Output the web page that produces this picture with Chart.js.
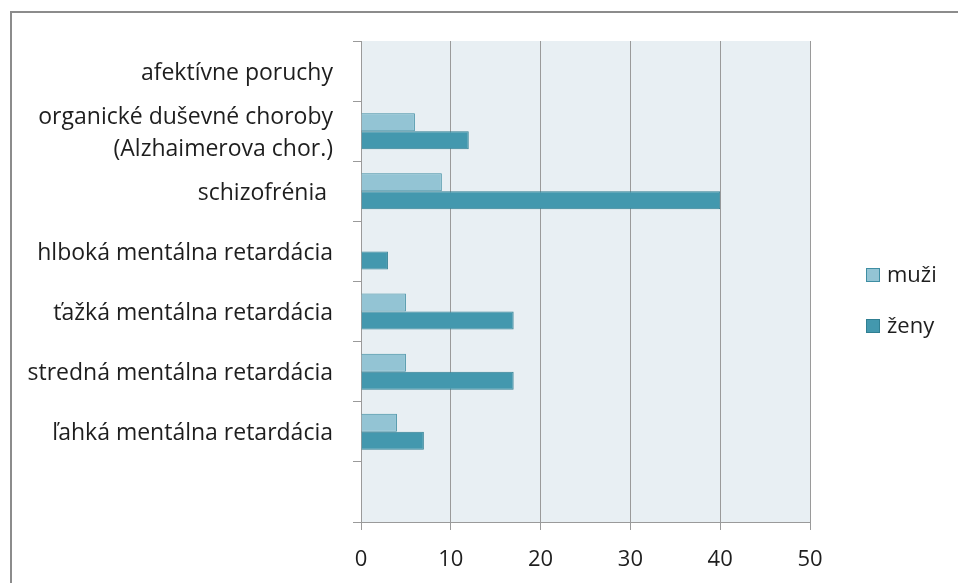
<!DOCTYPE html>
<html>
<head>
<meta charset="utf-8">
<script src="https://cdn.jsdelivr.net/npm/chart.js@4/dist/chart.umd.min.js"></script>
<style>
  html, body { margin: 0; padding: 0; background: #fff; }
  #wrap { position: relative; width: 958px; height: 583px; overflow: hidden; }
  #frame { position: absolute; left: 10px; top: 11px; width: 1200px; height: 900px; border: 2px solid #8c8c8c; }
  canvas { position: absolute; left: 0; top: 0; }
</style>
</head>
<body>
<div id="wrap">
  <div id="frame"></div>
  <canvas id="c" width="958" height="583"></canvas>
</div>
<script>
// kategórie (posledná je prázdna, ako v originále)
const categories = [
  'afektívne poruchy',
  ['organické duševné choroby', '(Alzhaimerova chor.)'],
  'schizofrénia ',
  'hlboká mentálna retardácia',
  'ťažká mentálna retardácia',
  'stredná mentálna retardácia',
  'ľahká mentálna retardácia',
  ''
];
const seriesNames = ['muži', 'ženy'];
const muzi = [0, 6, 9, 0, 5, 5, 4, null];
const zeny = [0, 12, 40, 3, 17, 17, 7, null];
const xTicks = [0, 10, 20, 30, 40, 50];

const FONT = '"Open Sans", Lato, sans-serif';
const GRID = '#9a9a9a';

// pozadie plochy grafu
const plotBg = {
  id: 'plotBg',
  beforeDraw(chart) {
    const {ctx, chartArea: a} = chart;
    ctx.save();
    ctx.fillStyle = '#e8eff3';
    ctx.fillRect(a.left, a.top, a.right - a.left, a.bottom - a.top);
    ctx.restore();
  }
};

// legenda vpravo
const sideLegend = {
  id: 'sideLegend',
  afterDraw(chart) {
    const {ctx, chartArea: a} = chart;
    ctx.save();
    ctx.font = '22px ' + FONT;
    ctx.textBaseline = 'middle';
    chart.data.datasets.forEach((ds, i) => {
      const x = a.right + 56, y = a.top + 234 + i * 51;
      ctx.fillStyle = ds.backgroundColor;
      ctx.fillRect(x, y - 7, 14, 14);
      ctx.strokeStyle = ds.borderColor;
      ctx.lineWidth = 1;
      ctx.strokeRect(x + 0.5, y - 6.5, 13, 13);
      ctx.fillStyle = '#1e1e1e';
      ctx.fillText(ds.label, x + 21, y + 1);
    });
    ctx.restore();
  }
};

new Chart(document.getElementById('c'), {
  type: 'bar',
  data: {
    labels: categories,
    datasets: [{
      label: seriesNames[0],
      data: muzi,
      backgroundColor: '#93c4d4',
      borderColor: '#3f8ea3',
      borderWidth: 1,
      categoryPercentage: 0.6,
      barPercentage: 1.0
    }, {
      label: seriesNames[1],
      data: zeny,
      backgroundColor: '#4398ae',
      borderColor: '#307f92',
      borderWidth: 1,
      categoryPercentage: 0.6,
      barPercentage: 1.0
    }]
  },
  plugins: [plotBg, sideLegend],
  options: {
    indexAxis: 'y',
    responsive: false,
    animation: false,
    layout: { padding: { top: 41, left: 0, right: 148, bottom: 0 } },
    plugins: {
      legend: { display: false },
      tooltip: { enabled: false }
    },
    scales: {
      x: {
        min: xTicks[0],
        max: xTicks[xTicks.length - 1],
        afterBuildTicks(scale) { scale.ticks = xTicks.map(v => ({value: v})); },
        afterFit(scale) { scale.height = 61; },
        grid: { color: GRID, lineWidth: 1, tickLength: 8, drawTicks: true },
        border: { display: true, color: GRID },
        ticks: { font: { family: FONT, size: 22 }, color: '#1e1e1e', padding: 17 }
      },
      y: {
        afterFit(scale) { scale.width = 361; },
        grid: { drawOnChartArea: false, color: GRID, tickLength: 8, offset: true },
        border: { display: true, color: GRID },
        ticks: { font: { family: FONT, size: 23, lineHeight: 1.38 }, color: '#1e1e1e', padding: 20, labelOffset: 2, autoSkip: false }
      }
    }
  }
});
</script>
</body>
</html>
